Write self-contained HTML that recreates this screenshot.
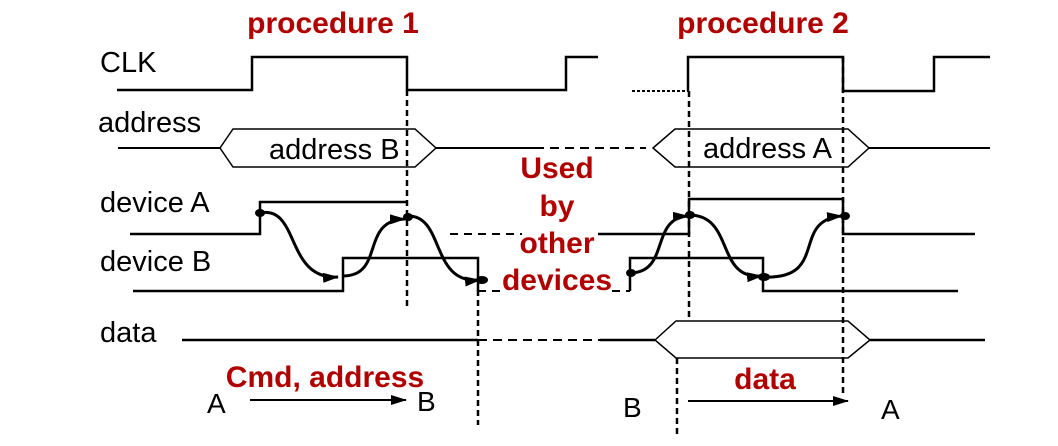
<!DOCTYPE html>
<html><head><style>body{margin:0;background:#fff}svg{display:block}</style></head><body>
<svg width="1058" height="446" viewBox="0 0 1058 446" xmlns="http://www.w3.org/2000/svg" font-family="Liberation Sans, Arial, sans-serif">
<defs><marker id="ah2" markerWidth="16" markerHeight="10" refX="15" refY="5" orient="auto" markerUnits="userSpaceOnUse"><path d="M0,0 L16,5 L0,10 z" fill="#000"/></marker></defs>
<g font-size="29" fill="#000">
<text x="100" y="72">CLK</text>
<text x="98" y="132">address</text>
<text x="100" y="212">device A</text>
<text x="100" y="271">device B</text>
<text x="100" y="342">data</text>
<text x="269" y="159">address B</text>
<text x="703" y="158">address A</text>
</g>
<g font-size="30" font-weight="bold" fill="#b00000" text-anchor="middle">
<text x="333" y="33">procedure 1</text>
<text x="763" y="33">procedure 2</text>
<text x="557" y="178">Used</text>
<text x="557" y="216">by</text>
<text x="557" y="253">other</text>
<text x="557" y="290">devices</text>
<text x="325" y="387">Cmd, address</text>
<text x="765" y="389">data</text>
</g>
<g fill="none" stroke="#000" stroke-width="2.5">
<polyline points="117,90 252,90 252,57 407,57 407,90 566,90 566,57 598,57"/>
<polyline points="688,91 688,57 843,57 843,91 934,91 934,57 990,57"/>
<line x1="632" y1="91" x2="688" y2="91" stroke-dasharray="3,2" stroke-width="2"/>
<line x1="118" y1="148" x2="220" y2="148" stroke-width="2"/>
<line x1="436" y1="148" x2="535" y2="148" stroke-width="2"/>
<line x1="535" y1="148" x2="646" y2="148" stroke-dasharray="9,6" stroke-width="2"/>
<line x1="869" y1="148" x2="990" y2="148" stroke-width="2"/>
<polyline points="130,234 260,234 260,202 407,202"/>
<line x1="450" y1="234" x2="522" y2="234" stroke-dasharray="8,6" stroke-width="2"/>
<polyline points="598,234 689,234 689,199 843,199 843,234 975,234"/>
<polyline points="133,291 343,291 343,258 478,258 478,291"/>
<line x1="478" y1="291" x2="505" y2="291" stroke-dasharray="8,6" stroke-width="2"/>
<line x1="612" y1="291" x2="630" y2="291" stroke-dasharray="8,6" stroke-width="2"/>
<polyline points="630,291 630,258 763,258 763,291 958,291"/>
<line x1="182" y1="340" x2="478" y2="340"/>
<line x1="478" y1="340" x2="600" y2="340" stroke-dasharray="9,6" stroke-width="2"/>
<line x1="600" y1="340" x2="655" y2="340"/>
<line x1="870" y1="340" x2="985" y2="340"/>
</g>
<g fill="none" stroke="#000" stroke-width="1.5">
<polygon points="220,148 233,129 415,129 436,148 415,167 233,167"/>
<polygon points="653,148 675,129 848,129 869,148 848,167 675,167"/>
<polygon points="655,340 676,321 848,321 870,340 848,358 676,358"/>
</g>
<g stroke="#000" stroke-width="2.5" stroke-dasharray="6,4" fill="none">
<line x1="407" y1="90" x2="407" y2="310"/>
<line x1="478" y1="290" x2="478" y2="425"/>
<line x1="689" y1="91" x2="689" y2="320"/>
<line x1="677" y1="358" x2="677" y2="435"/>
<line x1="843" y1="57" x2="843" y2="395"/>
</g>
<g stroke="#000" stroke-width="3" fill="none" marker-end="url(#ah2)">
<path d="M260,213 C300,205 285,280 338,277"/>
<path d="M343,276 C385,276 360,220 405,219"/>
<path d="M407,216 C445,214 430,285 480,280"/>
<path d="M630,273 C670,273 650,218 688,216"/>
<path d="M689,215 C735,215 715,280 762,276"/>
<path d="M763,277 C830,280 790,220 842,216"/>
</g>
<g fill="#000">
<ellipse cx="260" cy="213" rx="5" ry="4"/>
<ellipse cx="408" cy="217" rx="5" ry="4"/>
<ellipse cx="482" cy="280" rx="6" ry="4"/>
<ellipse cx="631" cy="273" rx="5" ry="4"/>
<ellipse cx="690" cy="215" rx="5" ry="4"/>
<ellipse cx="764" cy="277" rx="6" ry="4"/>
<ellipse cx="845" cy="216" rx="5" ry="4"/>
</g>
<g stroke="#000" stroke-width="2" marker-end="url(#ah2)">
<line x1="250" y1="400" x2="406" y2="400"/>
<line x1="688" y1="401" x2="848" y2="401"/>
</g>
<g font-size="28" fill="#000">
<text x="207" y="413">A</text>
<text x="417" y="411">B</text>
<text x="623" y="417">B</text>
<text x="881" y="419">A</text>
</g>
</svg>
</body></html>
